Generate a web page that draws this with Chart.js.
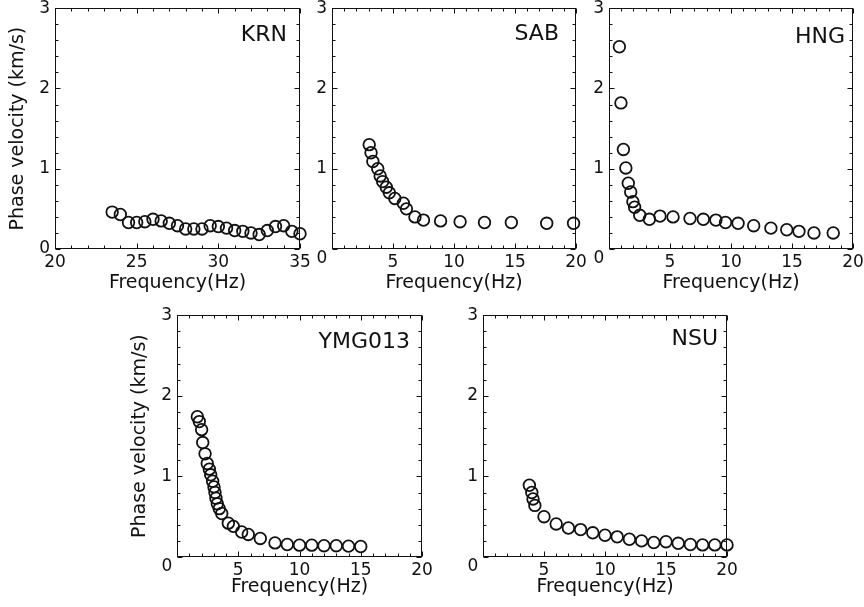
<!DOCTYPE html>
<html>
<head>
<meta charset="utf-8">
<script src="https://cdn.jsdelivr.net/npm/chart.js@4.4.0/dist/chart.umd.min.js"></script>
<style>
  html, body { margin: 0; padding: 0; background: #fff; }
  body { width: 864px; height: 607px; position: relative; overflow: hidden; }
  canvas.panel { position: absolute; }
</style>
</head>
<body>
<script>
// picked dispersion curves: frequency (Hz) and phase velocity (km/s) per station
const krnFreq = [23.5, 24.0, 24.5, 25.0, 25.5, 26.0, 26.5, 27.0, 27.5, 28.0, 28.5, 29.0,
                 29.5, 30.0, 30.5, 31.0, 31.5, 32.0, 32.5, 33.0, 33.5, 34.0, 34.5, 35.0];
const krnVel = [0.46, 0.43, 0.33, 0.33, 0.34, 0.37, 0.35, 0.32, 0.29, 0.25, 0.25, 0.25,
                0.29, 0.28, 0.26, 0.23, 0.22, 0.20, 0.18, 0.23, 0.28, 0.29, 0.22, 0.19];

const sabFreq = [3.05, 3.2, 3.35, 3.75, 3.95, 4.15, 4.45, 4.7, 5.15, 5.85, 6.1, 6.8, 7.5,
                 8.9, 10.5, 12.5, 14.7, 17.6, 19.8];
const sabVel = [1.30, 1.20, 1.09, 1.00, 0.91, 0.84, 0.77, 0.70, 0.63, 0.57, 0.50, 0.40, 0.36,
                0.35, 0.34, 0.33, 0.33, 0.32, 0.32];

const hngFreq = [0.85, 0.98, 1.18, 1.38, 1.58, 1.78, 1.96, 2.1, 2.52, 3.31, 4.18, 5.25, 6.64,
                 7.73, 8.76, 9.55, 10.58, 11.86, 13.27, 14.57, 15.57, 16.8, 18.38];
const hngVel = [2.52, 1.82, 1.24, 1.01, 0.82, 0.71, 0.59, 0.52, 0.42, 0.37, 0.41, 0.40, 0.38,
                0.37, 0.36, 0.33, 0.32, 0.29, 0.26, 0.24, 0.22, 0.20, 0.20];

const ymgFreq = [1.66, 1.82, 2.01, 2.1, 2.29, 2.47, 2.64, 2.75, 2.91, 3.02, 3.1, 3.18, 3.29, 3.45,
                 3.65, 4.19, 4.6, 5.28, 5.82, 6.8, 8, 9, 10, 11, 12, 13, 14, 15];
const ymgVel = [1.74, 1.68, 1.58, 1.42, 1.28, 1.16, 1.09, 1.02, 0.94, 0.87, 0.80, 0.73, 0.66, 0.60,
                0.54, 0.42, 0.38, 0.31, 0.28, 0.23, 0.175, 0.155, 0.147, 0.147, 0.14, 0.14, 0.135, 0.13];

const nsuFreq = [3.8, 4.0, 4.1, 4.25, 5, 6, 7, 8, 9, 10, 11, 12, 13, 14, 15, 16, 17, 18, 19, 20];
const nsuVel = [0.89, 0.80, 0.72, 0.64, 0.50, 0.41, 0.36, 0.34, 0.30, 0.27, 0.25, 0.22, 0.20,
                0.18, 0.19, 0.17, 0.155, 0.15, 0.15, 0.15];

const FONT = "'DejaVu Sans', Verdana, sans-serif";
const INK = '#111';

// room around each plot box for ticks labels and titles
const PAD_L = 55, PAD_T = 12, PAD_R = 16, PAD_B = 52;

// box = [left, top, width, height] of the plot frame on the page
const panels = [
  { name: 'KRN', freq: krnFreq, vel: krnVel, xMin: 20, xMax: 35, box: [55, 5, 245, 244],
    yTitle: true, tagRight: 13, tagBase: 33, titleGap: 7 },
  { name: 'SAB', freq: sabFreq, vel: sabVel, xMin: 0, xMax: 20, box: [332, 5, 244, 244],
    yTitle: false, tagRight: 17, tagBase: 32, titleGap: 7 },
  { name: 'HNG', freq: hngFreq, vel: hngVel, xMin: 0, xMax: 20, box: [609, 5, 244, 244],
    yTitle: false, tagRight: 8, tagBase: 35, titleGap: 7 },
  { name: 'YMG013', freq: ymgFreq, vel: ymgVel, xMin: 0, xMax: 20, box: [177, 312, 245, 245],
    yTitle: true, tagRight: 12, tagBase: 33, titleGap: 11 },
  { name: 'NSU', freq: nsuFreq, vel: nsuVel, xMin: 0, xMax: 20, box: [483, 312, 244, 245],
    yTitle: false, tagRight: 9, tagBase: 30, titleGap: 11 }
];

// frame with inward ticks on all sides, station name, shared corner zero
const framePlugin = {
  id: 'frame',
  afterDatasetsDraw(chart, args, opts) {
    const { ctx, chartArea: a, scales: { x, y } } = chart;
    const L = Math.round(a.left) + 0.5, R = Math.round(a.right) - 0.5;
    const T = Math.round(a.top) + 0.5, B = Math.round(a.bottom) - 0.5;
    ctx.save();
    ctx.strokeStyle = INK;
    ctx.lineWidth = 1;
    ctx.strokeRect(L, T, R - L, B - T);
    ctx.beginPath();
    for (let f = x.min; f <= x.max; f++) {
      const px = Math.round(x.getPixelForValue(f)) + 0.5;
      const len = f % 5 === 0 ? 5 : 3;
      ctx.moveTo(px, B); ctx.lineTo(px, B - len);
      ctx.moveTo(px, T); ctx.lineTo(px, T + len);
    }
    for (let i = 0; i <= 15; i++) {
      const py = Math.round(y.getPixelForValue(i * 0.2)) + 0.5;
      const len = i % 5 === 0 ? 5 : 3;
      ctx.moveTo(L, py); ctx.lineTo(L + len, py);
      ctx.moveTo(R, py); ctx.lineTo(R - len, py);
    }
    ctx.stroke();

    ctx.fillStyle = INK;
    ctx.font = '22px ' + FONT;
    ctx.textAlign = 'right';
    ctx.textBaseline = 'alphabetic';
    ctx.fillText(opts.name, a.right - opts.tagRight, a.top + opts.tagBase);

    if (opts.cornerZero) {
      ctx.font = '17px ' + FONT;
      ctx.textAlign = 'center';
      ctx.textBaseline = 'middle';
      ctx.fillText('0', a.left - 10, a.bottom + 10);
    }
    ctx.restore();
  }
};

panels.forEach(p => {
  const [left, top, w, h] = p.box;
  const cornerZero = p.xMin === 0;
  const canvas = document.createElement('canvas');
  canvas.className = 'panel';
  canvas.width = PAD_L + w + PAD_R;
  canvas.height = PAD_T + h + PAD_B;
  canvas.style.left = (left - PAD_L) + 'px';
  canvas.style.top = (top - PAD_T) + 'px';
  document.body.appendChild(canvas);

  const points = p.freq.map((f, i) => ({ x: f, y: p.vel[i] }));

  new Chart(canvas, {
    type: 'scatter',
    data: {
      datasets: [{
        data: points,
        pointStyle: 'circle',
        pointRadius: 5.8,
        pointHoverRadius: 5.8,
        borderColor: INK,
        borderWidth: 1.8,
        backgroundColor: 'rgba(0,0,0,0)',
        clip: false
      }]
    },
    options: {
      responsive: false,
      animation: false,
      events: [],
      layout: { padding: { left: 0, top: PAD_T, right: PAD_R, bottom: 0 } },
      plugins: {
        legend: { display: false },
        tooltip: { enabled: false },
        frame: { name: p.name, tagRight: p.tagRight, tagBase: p.tagBase, cornerZero }
      },
      scales: {
        x: {
          type: 'linear',
          min: p.xMin,
          max: p.xMax,
          grid: { display: false, drawTicks: false },
          border: { display: false },
          ticks: {
            stepSize: 5,
            padding: 3,
            maxRotation: 0,
            color: INK,
            font: { family: FONT, size: 17 },
            callback: v => (cornerZero && v === 0) ? '' : v
          },
          title: {
            display: true,
            text: 'Frequency(Hz)',
            color: INK,
            font: { family: FONT, size: 19 },
            padding: { top: 0, bottom: p.titleGap }
          },
          afterFit: s => { s.height = PAD_B; }
        },
        y: {
          type: 'linear',
          min: 0,
          max: 3,
          grid: { display: false, drawTicks: false },
          border: { display: false },
          ticks: {
            stepSize: 1,
            padding: 5,
            color: INK,
            font: { family: FONT, size: 17 },
            callback: v => (cornerZero && v === 0) ? '' : v
          },
          title: {
            display: p.yTitle,
            text: 'Phase velocity (km/s)',
            color: INK,
            font: { family: FONT, size: 19 },
            padding: { top: 7, bottom: 0 }
          },
          afterFit: s => { s.width = PAD_L; }
        }
      }
    },
    plugins: [framePlugin]
  });
});
</script>
</body>
</html>
